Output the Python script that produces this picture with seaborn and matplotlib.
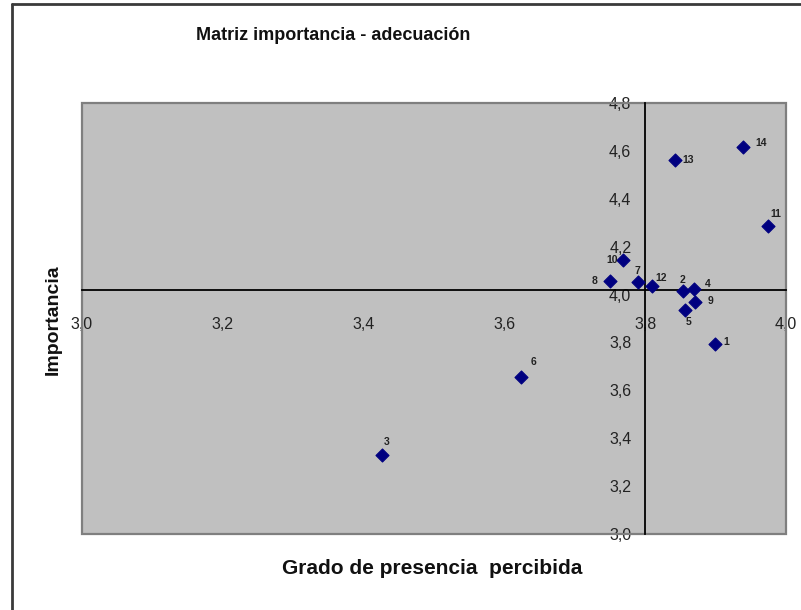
import matplotlib
matplotlib.use("Agg")
import matplotlib.pyplot as plt
from matplotlib.lines import Line2D
from matplotlib.patches import Rectangle
from matplotlib.ticker import FixedLocator, FuncFormatter
import seaborn as sns
import pandas as pd

# ---- data ----
item_ids = ['1', '2', '3', '4', '5', '6', '7', '8', '9', '10', '11', '12', '13', '14']
presencia = [3.899, 3.854, 3.426, 3.869, 3.857, 3.623, 3.790, 3.750, 3.871, 3.769, 3.974, 3.809, 3.843, 3.939]
importancia = [3.792, 4.013, 3.329, 4.024, 3.935, 3.655, 4.051, 4.058, 3.970, 4.146, 4.285, 4.037, 4.560, 4.615]
x_ticks = [3.0, 3.2, 3.4, 3.6, 3.8, 4.0]
y_ticks = [3.0, 3.2, 3.4, 3.6, 3.8, 4.0, 4.2, 4.4, 4.6, 4.8]
x_cross = 3.8
y_cross = 4.017

# label offsets in pixels (dx, dy, ha)
label_offsets = {
    '1': (11, 2, 'center'), '2': (-1, 11, 'center'), '3': (5, 13, 'center'),
    '4': (14, 5, 'center'), '5': (3, -12, 'center'), '6': (13, 15, 'center'),
    '7': (-1, 11, 'center'), '8': (-13, 0, 'right'), '9': (15, 1, 'center'),
    '10': (-6, 0, 'right'), '11': (8, 12, 'center'), '12': (10, 8, 'center'),
    '13': (7, 0, 'left'), '14': (12, 4, 'left'),
}

df = pd.DataFrame({'id': item_ids, 'presencia': presencia, 'importancia': importancia})

sns.set_style("white")
plt.rcParams['font.family'] = ['Liberation Sans', 'DejaVu Sans']

fig = plt.figure(figsize=(8.01, 6.10), dpi=100)
ax = fig.add_axes([82 / 801, 1 - 534 / 610, 704 / 801, 431 / 610])
ax.set_facecolor('#C0C0C0')

sns.scatterplot(data=df, x='presencia', y='importancia', ax=ax, marker='D',
                s=44, color='#000080', edgecolor='#000080', linewidth=0.8, zorder=5)

for i, xv, yv in zip(item_ids, presencia, importancia):
    dx, dy, ha = label_offsets[i]
    ax.annotate(i, (xv, yv), xytext=(dx, dy), textcoords='offset pixels',
                ha=ha, va='center', fontsize=7.5, fontweight='bold', color='#222222', zorder=6)

ax.set_xlim(3.0, 4.0)
ax.set_ylim(3.0, 4.8)

for s in ['top', 'right']:
    ax.spines[s].set_visible(False)
ax.spines['left'].set_position(('data', x_cross))
ax.spines['bottom'].set_position(('data', y_cross))
for s in ['left', 'bottom']:
    ax.spines[s].set_color('black')
    ax.spines[s].set_linewidth(1.3)
    ax.spines[s].set_zorder(4)

ax.xaxis.set_major_locator(FixedLocator(x_ticks))
ax.yaxis.set_major_locator(FixedLocator(y_ticks))
fmt = FuncFormatter(lambda v, p: f"{v:.1f}".replace('.', ','))
ax.xaxis.set_major_formatter(fmt)
ax.yaxis.set_major_formatter(fmt)
ax.tick_params(axis='x', direction='out', length=5, width=1.2, pad=14,
               labelsize=11.5, labelcolor='#222222', color='black')
ax.tick_params(axis='y', direction='out', length=5, width=1.2, pad=5,
               labelsize=11.5, labelcolor='#222222', color='black')
ax.set_xlabel('')
ax.set_ylabel('')

# plot-area border
ax.add_patch(Rectangle((0, 0), 1, 1, transform=ax.transAxes, fill=False,
                       edgecolor='#7F7F7F', linewidth=1.6, clip_on=False, zorder=3))

# chart border (left and top visible)
fig.add_artist(Line2D([12 / 801, 12 / 801], [0, 1 - 4 / 610], transform=fig.transFigure,
                      color='#3A3A3A', linewidth=2))
fig.add_artist(Line2D([12 / 801, 1], [1 - 4 / 610, 1 - 4 / 610], transform=fig.transFigure,
                      color='#3A3A3A', linewidth=2))

fig.text(333 / 801, 1 - 36 / 610, 'Matriz importancia - adecuación',
         family=['Liberation Sans Narrow', 'Liberation Sans', 'DejaVu Sans'],
         fontsize=13, fontweight='bold', ha='center', va='center', color='#111111')
fig.text(432 / 801, 1 - 569 / 610, 'Grado de presencia  percibida',
         fontsize=15, fontweight='bold', ha='center', va='center', color='#111111')
fig.text(53 / 801, 1 - 320 / 610, 'Importancia',
         family=['Liberation Sans Narrow', 'Liberation Sans', 'DejaVu Sans'],
         fontsize=14, fontweight='bold', ha='center', va='center', rotation=90, color='#111111')

fig.savefig('out.png', dpi=100)
